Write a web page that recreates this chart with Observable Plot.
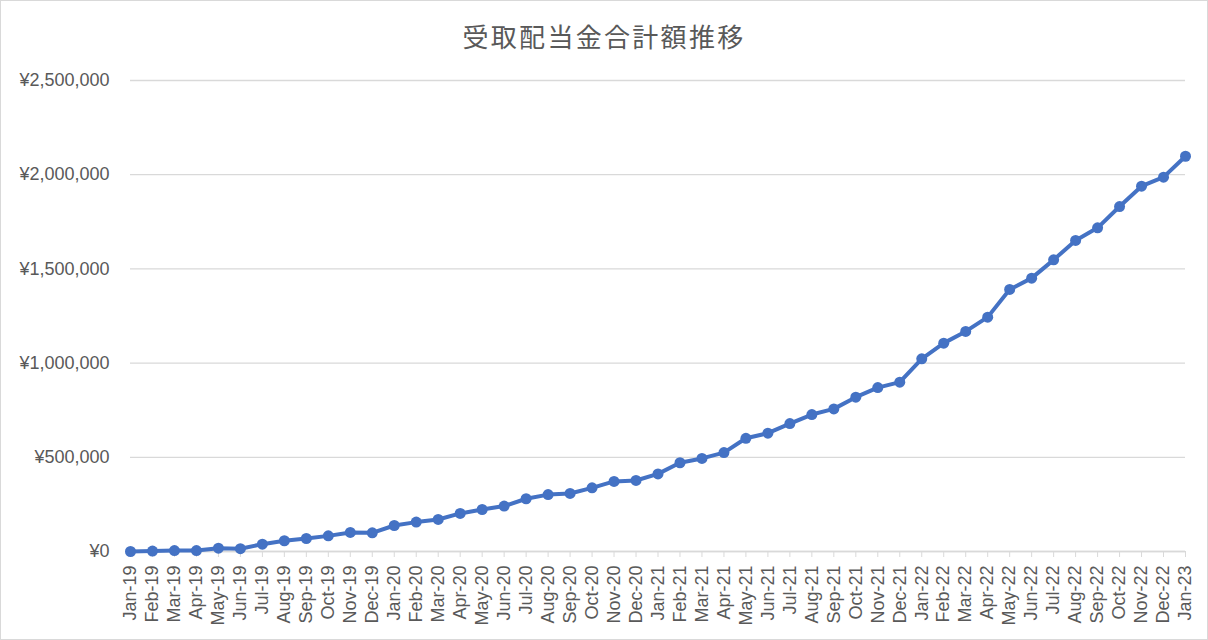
<!DOCTYPE html>
<html>
<head>
<meta charset="utf-8">
<script src="https://cdn.jsdelivr.net/npm/d3@7"></script>
<script src="https://cdn.jsdelivr.net/npm/@observablehq/plot@0.6"></script>
<style>
  html, body { margin: 0; padding: 0; background: #fff; }
  #frame { box-sizing: border-box; width: 1208px; height: 640px; border: 1px solid #d9d9d9; overflow: hidden; position: relative; }
  #title { height: 59px; line-height: 70px; text-align: center; font-family: "Noto Sans CJK JP", sans-serif; font-size: 26px; letter-spacing: 2.3px; color: #595959; }
  #chart svg { display: block; }
</style>
</head>
<body>
<div id="frame">
  <div id="title">受取配当金合計額推移</div>
  <div id="chart"></div>
</div>
<script>
const months = ["Jan-19","Feb-19","Mar-19","Apr-19","May-19","Jun-19","Jul-19","Aug-19","Sep-19","Oct-19","Nov-19","Dec-19",
  "Jan-20","Feb-20","Mar-20","Apr-20","May-20","Jun-20","Jul-20","Aug-20","Sep-20","Oct-20","Nov-20","Dec-20",
  "Jan-21","Feb-21","Mar-21","Apr-21","May-21","Jun-21","Jul-21","Aug-21","Sep-21","Oct-21","Nov-21","Dec-21",
  "Jan-22","Feb-22","Mar-22","Apr-22","May-22","Jun-22","Jul-22","Aug-22","Sep-22","Oct-22","Nov-22","Dec-22",
  "Jan-23"];
const totals = [0, 2000, 5000, 5000, 17500, 15000, 39000, 57000, 69000, 83000, 101000, 99000,
  138000, 156000, 170000, 202000, 223000, 241000, 280000, 302000, 308000, 338000, 372000, 377000,
  412000, 471000, 494000, 525000, 601000, 628000, 679000, 727000, 757000, 819000, 870000, 899000,
  1023000, 1106000, 1168000, 1244000, 1391000, 1451000, 1548000, 1651000, 1718000, 1831000, 1939000, 1987000,
  2098000];
const yTicks = [0, 500000, 1000000, 1500000, 2000000, 2500000];

const data = months.map((m, i) => ({month: m, value: totals[i]}));
const yen = v => "¥" + d3.format(",")(v);

const chart = Plot.plot({
  width: 1206,
  height: 579,
  marginTop: 20,
  marginBottom: 88,
  marginLeft: 129,
  marginRight: 22,
  style: {fontFamily: "'Liberation Sans', Arial, sans-serif", fontSize: "18px", color: "#595959", background: "#fff"},
  x: {type: "point", domain: months, padding: 0, label: null},
  y: {domain: [0, 2500000], ticks: yTicks, label: null},
  marks: [
    Plot.gridY(yTicks, {stroke: "#d9d9d9", strokeOpacity: 1, strokeWidth: 1.3}),
    Plot.axisY(yTicks, {tickFormat: yen, tickSize: 0, tickPadding: 21, fontSize: 18, fill: "#595959"}),
    Plot.axisX({tickRotate: -90, tickSize: 6, tickPadding: 8, stroke: "#d9d9d9", fontSize: 18, fill: "#595959"}),
    Plot.ruleY([0], {stroke: "#d9d9d9", strokeWidth: 1.3}),
    Plot.line(data, {x: "month", y: "value", stroke: "#4472C4", strokeWidth: 4, strokeLinejoin: "round"}),
    Plot.dot(data, {x: "month", y: "value", fill: "#4472C4", r: 5.5})
  ]
});
document.getElementById("chart").appendChild(chart);
</script>
</body>
</html>
